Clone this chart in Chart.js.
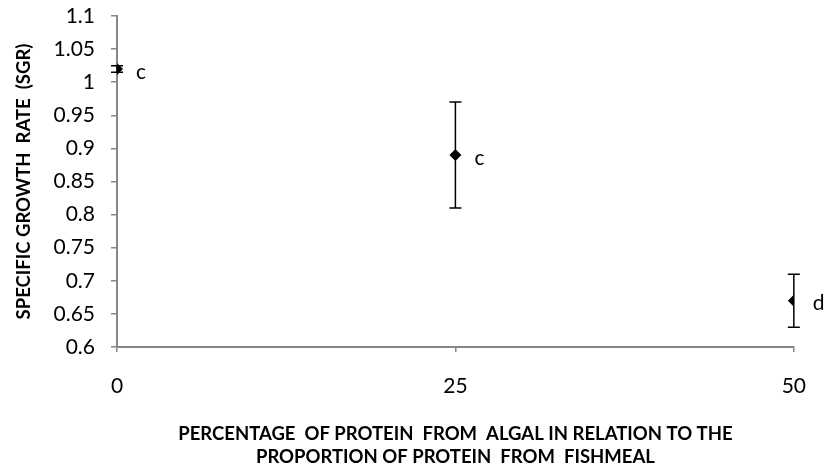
<!DOCTYPE html>
<html>
<head>
<meta charset="utf-8">
<script src="https://cdn.jsdelivr.net/npm/chart.js@4/dist/chart.umd.min.js"></script>
<style>
  html, body { margin: 0; padding: 0; background: #fff; }
  canvas { display: block; }
</style>
</head>
<body>
<canvas id="sgrChart" width="828" height="475"></canvas>
<script>
// Доля белка из водорослей (%) и удельная скорость роста
const algalShare = [0, 25, 50];
const sgrMean = [1.02, 0.89, 0.67];
const sgrError = [0.005, 0.08, 0.04];
const groupLetters = ["c", "c", "d"];

const AXIS_COLOR = "#868686";
const INK = "#000000";
const FONT = "Lato";

// Планки погрешностей: рисуем до маркеров, чтобы ромбы были поверх
const errorBars = {
  id: "errorBars",
  beforeDatasetsDraw(chart) {
    const { ctx, scales } = chart;
    ctx.save();
    ctx.strokeStyle = INK;
    ctx.lineWidth = 1.5;
    algalShare.forEach((x, i) => {
      const px = scales.x.getPixelForValue(x);
      const top = scales.y.getPixelForValue(sgrMean[i] + sgrError[i]);
      const bottom = scales.y.getPixelForValue(sgrMean[i] - sgrError[i]);
      ctx.beginPath();
      ctx.moveTo(px, top);
      ctx.lineTo(px, bottom);
      ctx.moveTo(px - 6, top);
      ctx.lineTo(px + 6, top);
      ctx.moveTo(px - 6, bottom);
      ctx.lineTo(px + 6, bottom);
      ctx.stroke();
    });
    ctx.restore();
  },
};

// Буквы групп справа от точек
const letterLabels = {
  id: "letterLabels",
  afterDatasetsDraw(chart) {
    const { ctx, scales } = chart;
    ctx.save();
    ctx.fillStyle = INK;
    ctx.font = `21px ${FONT}`;
    ctx.textAlign = "left";
    ctx.textBaseline = "middle";
    algalShare.forEach((x, i) => {
      const px = scales.x.getPixelForValue(x);
      const py = scales.y.getPixelForValue(sgrMean[i]);
      ctx.fillText(groupLetters[i], px + 19, py + 3);
    });
    ctx.restore();
  },
};

new Chart(document.getElementById("sgrChart"), {
  type: "scatter",
  data: {
    datasets: [
      {
        data: algalShare.map((x, i) => ({ x, y: sgrMean[i] })),
        pointStyle: "rectRot",
        pointRadius: 6,
        pointHoverRadius: 6,
        backgroundColor: INK,
        borderColor: INK,
        borderWidth: 0,
        showLine: false,
      },
    ],
  },
  options: {
    responsive: false,
    animation: false,
    layout: { padding: { top: 16, right: 31, left: 0, bottom: 0 } },
    plugins: {
      legend: { display: false },
      tooltip: { enabled: false },
    },
    scales: {
      x: {
        type: "linear",
        min: 0,
        max: 50,
        afterFit(scale) {
          scale.height = 128;
        },
        border: { display: true, color: AXIS_COLOR, width: 2 },
        grid: {
          drawOnChartArea: false,
          drawTicks: true,
          tickLength: 5,
          color: AXIS_COLOR,
          lineWidth: 1.5,
        },
        ticks: {
          stepSize: 25,
          padding: 22,
          color: INK,
          font: { family: FONT, size: 21 },
        },
        title: {
          display: true,
          text: [
            "PERCENTAGE  OF PROTEIN  FROM  ALGAL IN RELATION TO THE",
            "PROPORTION OF PROTEIN  FROM  FISHMEAL",
          ],
          color: INK,
          font: { family: FONT, size: 18.5, weight: "bold", lineHeight: 1.25 },
          padding: { top: 0, bottom: 6 },
        },
      },
      y: {
        min: 0.6,
        max: 1.1,
        afterFit(scale) {
          scale.width = 117;
          // отступ подписей не должен сдвигать область графика
          scale.paddingTop = 0;
          scale.paddingBottom = 0;
        },
        border: { display: true, color: AXIS_COLOR, width: 2 },
        grid: {
          drawOnChartArea: false,
          drawTicks: true,
          tickLength: 6,
          color: AXIS_COLOR,
          lineWidth: 1.5,
        },
        ticks: {
          stepSize: 0.05,
          padding: 16,
          color: INK,
          font: { family: FONT, size: 21 },
          callback: (v) => String(parseFloat(v.toFixed(2))),
        },
        title: {
          display: true,
          text: "SPECIFIC GROWTH  RATE  (SGR)",
          color: INK,
          font: { family: FONT, size: 18.5, weight: "bold" },
          padding: { top: 13, bottom: 0 },
        },
      },
    },
  },
  plugins: [errorBars, letterLabels],
});
</script>
</body>
</html>
